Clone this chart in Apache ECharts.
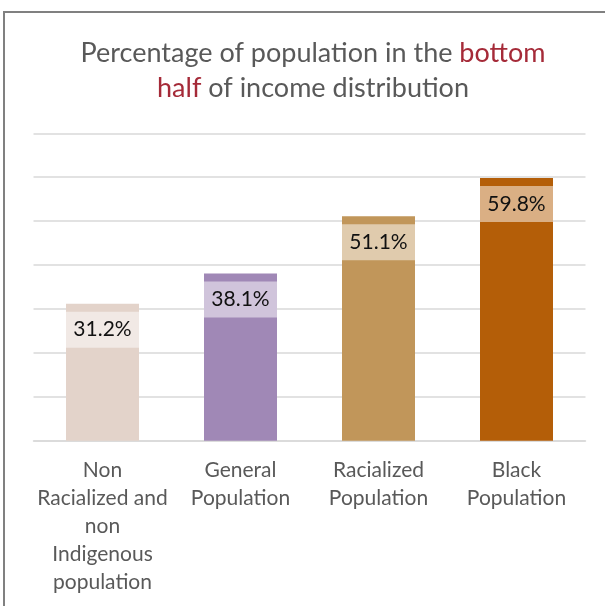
<!DOCTYPE html>
<html>
<head>
<meta charset="utf-8">
<style>
  html, body { margin: 0; padding: 0; background: #ffffff; }
  #chart { width: 605px; height: 606px; }
</style>
<script src="https://cdn.jsdelivr.net/npm/echarts@6/dist/echarts.min.js"></script>
</head>
<body>
<div id="chart"></div>
<script>
// Population groups along the x axis
const categories = [
  'Non\nRacialized and\nnon\nIndigenous\npopulation',
  'General\nPopulation',
  'Racialized\nPopulation',
  'Black\nPopulation'
];
// Share of each group in the bottom half of the income distribution (%)
const shares = [31.2, 38.1, 51.1, 59.8];
const barColors = ['#e3d3ca', '#a088b6', '#c1965a', '#b45e08'];

const FONT = 'Lato, "Open Sans", sans-serif';

const chart = echarts.init(document.getElementById('chart'), null, { renderer: 'canvas' });

chart.setOption({
  backgroundColor: '#ffffff',
  animation: false,
  title: {
    left: 308,
    textAlign: 'center',
    top: 31,
    text: '{a|Percentage of population in the }{r|bottom}\n{r|half}{a| of income distribution}',
    textStyle: {
      fontWeight: 'normal',
      rich: {
        a: { fontFamily: FONT, fontSize: 27, fontWeight: 'normal', color: '#595959', lineHeight: 35 },
        r: { fontFamily: FONT, fontSize: 27, fontWeight: 'normal', color: '#a52a38', lineHeight: 35 }
      }
    }
  },
  graphic: [{
    type: 'rect',
    shape: { x: 4, y: 12, width: 700, height: 700 },
    style: { fill: 'none', stroke: '#808080', lineWidth: 2 },
    silent: true
  }],
  grid: { left: 33.5, right: 19.5, top: 133.3, bottom: 165.3, containLabel: false },
  xAxis: {
    type: 'category',
    data: categories,
    axisLine: { show: true, lineStyle: { color: '#d9d9d9', width: 1.5 } },
    axisTick: { show: false },
    axisLabel: {
      interval: 0,
      margin: 16,
      fontFamily: FONT,
      fontSize: 21,
      lineHeight: 28,
      color: '#595959',
      verticalAlign: 'top'
    }
  },
  yAxis: {
    type: 'value',
    min: 0,
    max: 70,
    interval: 10,
    axisLabel: { show: false },
    axisLine: { show: false },
    axisTick: { show: false },
    splitLine: { lineStyle: { color: '#d9d9d9', width: 1.5 } }
  },
  series: [{
    type: 'bar',
    barWidth: 73,
    data: shares.map((v, i) => ({ value: v, itemStyle: { color: barColors[i] } })),
    label: {
      show: true,
      position: 'insideTop',
      distance: 8,
      formatter: p => p.value.toFixed(1) + '%',
      fontFamily: FONT,
      fontSize: 21,
      color: '#111111',
      width: 73,
      height: 36,
      lineHeight: 36,
      align: 'center',
      backgroundColor: 'rgba(255,255,255,0.5)'
    }
  }]
});
</script>
</body>
</html>
